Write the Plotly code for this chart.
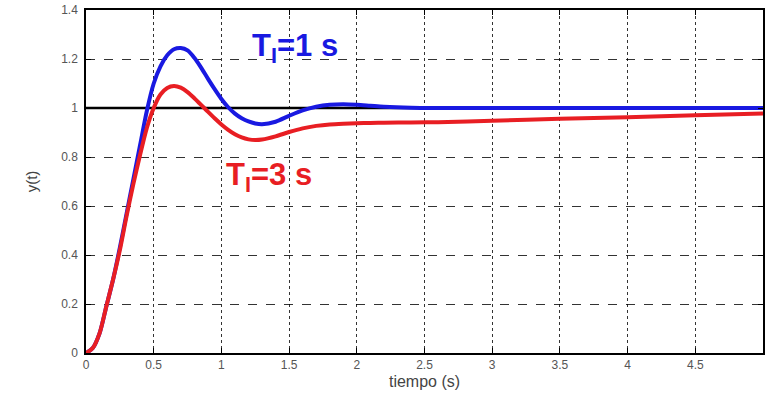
import plotly.graph_objects as go

# ---- data ----
t = [0, 0.05, 0.1, 0.15, 0.2, 0.25, 0.3, 0.35, 0.4, 0.45, 0.5, 0.55, 0.6, 0.65,
     0.7, 0.75, 0.8, 0.85, 0.9, 0.95, 1.0, 1.05, 1.1, 1.15, 1.2, 1.25, 1.3, 1.4,
     1.5, 1.6, 1.7, 1.8, 1.9, 2.0, 2.1, 2.2, 2.4, 2.6, 3.0, 3.5, 4.0, 4.5, 5.0]

y_ti1 = [0, 0.02, 0.08, 0.19, 0.30, 0.43, 0.57, 0.71, 0.85, 0.99, 1.10, 1.17, 1.215, 1.24,
         1.245, 1.235, 1.205, 1.165, 1.12, 1.077, 1.037, 1.003, 0.977, 0.958, 0.945, 0.937, 0.934, 0.944,
         0.968, 0.99, 1.005, 1.013, 1.015, 1.013, 1.009, 1.005, 1.001, 1.0, 1.0, 1.0, 1.0, 1.0, 1.0]

y_ti3 = [0, 0.02, 0.08, 0.19, 0.30, 0.42, 0.56, 0.69, 0.81, 0.92, 1.0, 1.055, 1.082, 1.09,
         1.083, 1.065, 1.04, 1.013, 0.985, 0.958, 0.933, 0.911, 0.893, 0.88, 0.872, 0.869, 0.871, 0.884,
         0.902, 0.917, 0.927, 0.933, 0.936, 0.938, 0.939, 0.94, 0.941, 0.942, 0.948, 0.956, 0.962, 0.97, 0.978]

ref_level = 1.0
x_ticks = [0, 0.5, 1, 1.5, 2, 2.5, 3, 3.5, 4, 4.5, 5]
y_ticks = [0, 0.2, 0.4, 0.6, 0.8, 1, 1.2, 1.4]

BLUE = "rgb(25,25,225)"
RED = "rgb(232,30,35)"
FONT = "Arial, Liberation Sans, sans-serif"

fig = go.Figure()
fig.add_trace(go.Scatter(x=[t[0], t[-1]], y=[ref_level, ref_level], mode="lines",
                         line=dict(color="black", width=2.5), hoverinfo="skip", showlegend=False))
fig.add_trace(go.Scatter(x=t, y=y_ti1, mode="lines", line=dict(color=BLUE, width=4, shape="spline", smoothing=0.8),
                         name="T_I=1 s", showlegend=False))
fig.add_trace(go.Scatter(x=t, y=y_ti3, mode="lines", line=dict(color=RED, width=4, shape="spline", smoothing=0.8),
                         name="T_I=3 s", showlegend=False))

fig.add_annotation(x=1.54, y=1.245, xref="x", yref="y", text="<b>T<sub>I</sub>=1 s</b>",
                   showarrow=False, font=dict(family=FONT, size=31, color=BLUE))
fig.add_annotation(x=1.35, y=0.72, xref="x", yref="y", text="<b>T<sub>I</sub>=3 s</b>",
                   showarrow=False, font=dict(family=FONT, size=31, color=RED))

axis_common = dict(showline=True, linecolor="black", linewidth=1.5, mirror="ticks",
                   ticks="inside", ticklen=5, tickcolor="black", showgrid=True,
                   gridcolor="rgba(0,0,0,0.8)", gridwidth=1.4, zeroline=False,
                   tickfont=dict(family=FONT, size=12, color="#555"))

fig.update_xaxes(range=[0, 5], tickvals=x_ticks, griddash="dot",
                 title=dict(text="tiempo (s)", font=dict(family=FONT, size=16, color="#444"),
                            standoff=5),
                 **axis_common)
fig.update_yaxes(range=[0, 1.4], tickvals=y_ticks, griddash="dash", ticklabelstandoff=4,
                 title=dict(text="y(t)", font=dict(family=FONT, size=15, color="#444"),
                            standoff=20),
                 **axis_common)

fig.update_layout(width=766, height=397, margin=dict(l=86, r=1, t=10, b=44),
                  plot_bgcolor="white", paper_bgcolor="white")

fig.write_html("out.html")
